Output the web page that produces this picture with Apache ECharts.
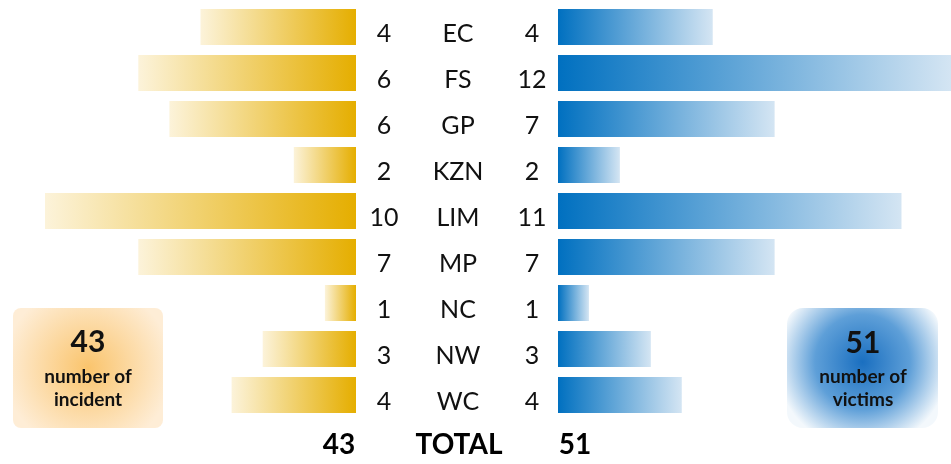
<!DOCTYPE html>
<html>
<head>
<meta charset="utf-8">
<script src="https://cdn.jsdelivr.net/npm/echarts@6/dist/echarts.min.js"></script>
<style>
  html, body { margin: 0; padding: 0; background: #fff; }
  #chart { width: 951px; height: 464px; }
</style>
</head>
<body>
<div id="chart"></div>
<script>
// provinces, top to bottom
var regions = ['EC', 'FS', 'GP', 'KZN', 'LIM', 'MP', 'NC', 'NW', 'WC']
// printed numbers
var incidents = [4, 6, 6, 2, 10, 7, 1, 3, 4]
var victims = [4, 12, 7, 2, 11, 7, 1, 3, 4]
// bar lengths as drawn in the picture (EC / FS do not match the printed numbers)
var incidentBars = [5, 7, 6, 2, 10, 7, 1, 3, 4]
var victimBars = [5, 12.7, 7, 2, 11.1, 7, 1, 3, 4]

var totalIncidents = incidents.reduce(function (a, b) { return a + b }, 0)
var totalVictims = victims.reduce(function (a, b) { return a + b }, 0)

var font = 'Lato, "Open Sans", sans-serif'
var gridTop = 4
var gridBottom = 464 - 418

var gold = {
  type: 'linear', x: 0, y: 0, x2: 1, y2: 0,
  colorStops: [
    { offset: 0, color: '#FCF3DA' }, // 左端浅色
    { offset: 1, color: '#E5AE00' }
  ]
}
var blue = {
  type: 'linear', x: 0, y: 0, x2: 1, y2: 0,
  colorStops: [
    { offset: 0, color: '#0070C0' },
    { offset: 1, color: '#D4E5F3' }
  ]
}

function catAxis (gridIndex, position, margin, labels) {
  return {
    type: 'category',
    gridIndex: gridIndex,
    data: regions,
    inverse: true,
    position: position,
    axisLine: { show: false },
    axisTick: { show: false },
    splitLine: { show: false },
    axisLabel: {
      margin: margin,
      align: 'center',
      formatter: function (v, i) { return '{t|' + labels[i] + '}' },
      rich: {
        t: {
          fontSize: 25,
          fontFamily: font,
          color: '#111',
          padding: [14, 0, 0, 0]
        }
      }
    }
  }
}

var chart = echarts.init(document.getElementById('chart'))
chart.setOption({
  animation: false,
  grid: [
    { left: 45, right: 595, top: gridTop, bottom: gridBottom },
    { left: 558, right: 0, top: gridTop, bottom: gridBottom },
    { left: 458, width: 1, top: gridTop, bottom: gridBottom }
  ],
  xAxis: [
    { type: 'value', gridIndex: 0, min: 0, max: 10, inverse: true, show: false },
    { type: 'value', gridIndex: 1, min: 0, max: 12.7, show: false },
    { type: 'value', gridIndex: 2, show: false }
  ],
  yAxis: [
    catAxis(0, 'right', 28, incidents),
    catAxis(1, 'left', 26, victims),
    catAxis(2, 'left', 0, regions)
  ],
  series: [
    {
      type: 'bar',
      xAxisIndex: 0,
      yAxisIndex: 0,
      data: incidentBars,
      barWidth: 36,
      itemStyle: { color: gold }
    },
    {
      type: 'bar',
      xAxisIndex: 1,
      yAxisIndex: 1,
      data: victimBars,
      barWidth: 36,
      itemStyle: { color: blue }
    }
  ],
  graphic: [
    {
      type: 'rect',
      shape: { x: 13, y: 308, width: 150, height: 120, r: 8 },
      style: {
        fill: {
          type: 'radial', x: 0.5, y: 0.5, r: 0.7,
          colorStops: [
            { offset: 0, color: '#FAC46C' },
            { offset: 1, color: '#FEEDD6' }
          ]
        }
      }
    },
    {
      type: 'text', x: 88, y: 342,
      style: { text: String(totalIncidents), fontSize: 30, fontWeight: 'bold', fontFamily: font, fill: '#111', align: 'center', verticalAlign: 'middle' }
    },
    {
      type: 'text', x: 88, y: 388,
      style: { text: 'number of\nincident', fontSize: 19, lineHeight: 23, fontWeight: 'bold', fontFamily: font, fill: '#111', align: 'center', verticalAlign: 'middle' }
    },
    {
      type: 'rect',
      shape: { x: 787, y: 308, width: 151, height: 120, r: 16 },
      style: {
        fill: {
          type: 'radial', x: 0.5, y: 0.45, r: 0.72,
          colorStops: [
            { offset: 0, color: '#1A6FC0' },
            { offset: 0.55, color: '#5E9FD8' },
            { offset: 1, color: '#F3F8FC' }
          ]
        }
      }
    },
    {
      type: 'text', x: 863, y: 343,
      style: { text: String(totalVictims), fontSize: 30, fontWeight: 'bold', fontFamily: font, fill: '#111', align: 'center', verticalAlign: 'middle' }
    },
    {
      type: 'text', x: 863, y: 388,
      style: { text: 'number of\nvictims', fontSize: 19, lineHeight: 23, fontWeight: 'bold', fontFamily: font, fill: '#111', align: 'center', verticalAlign: 'middle' }
    },
    // TOTAL 行
    {
      type: 'text', x: 339, y: 445,
      style: { text: String(totalIncidents), fontSize: 28, fontWeight: 'bold', fontFamily: font, fill: '#000', align: 'center', verticalAlign: 'middle' }
    },
    {
      type: 'text', x: 459, y: 445,
      style: { text: 'TOTAL', fontSize: 28, fontWeight: 'bold', fontFamily: font, fill: '#000', align: 'center', verticalAlign: 'middle' }
    },
    {
      type: 'text', x: 575, y: 445,
      style: { text: String(totalVictims), fontSize: 28, fontWeight: 'bold', fontFamily: font, fill: '#000', align: 'center', verticalAlign: 'middle' }
    }
  ]
})
</script>
</body>
</html>
